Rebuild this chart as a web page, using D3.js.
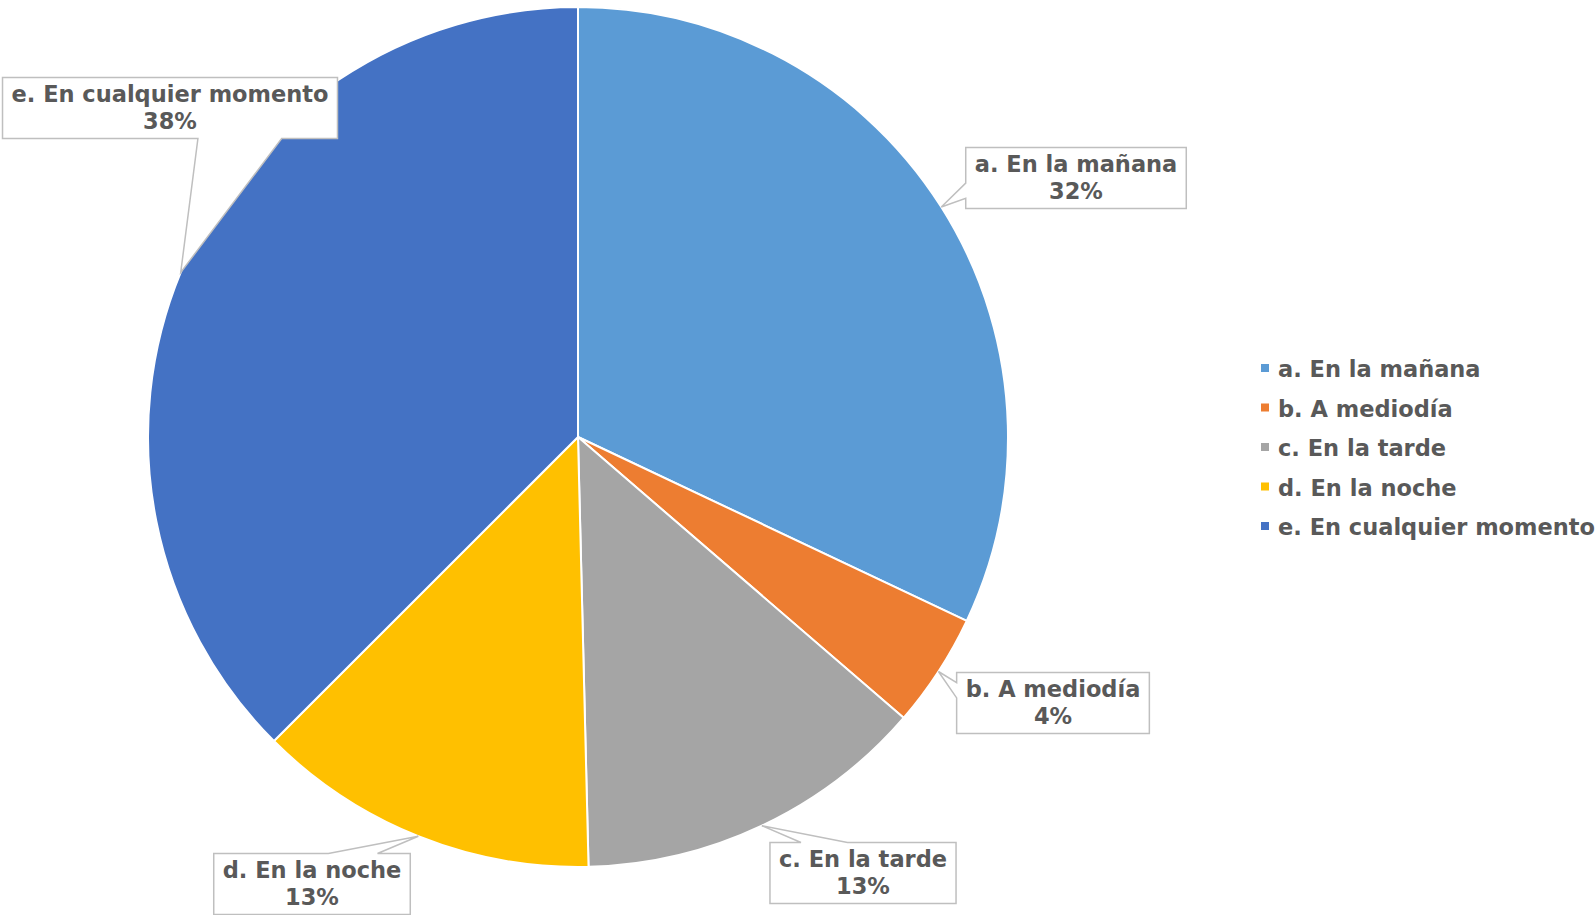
<!DOCTYPE html>
<html>
<head>
<meta charset="utf-8">
<script src="https://cdn.jsdelivr.net/npm/d3@7"></script>
<style>
  html, body { margin: 0; padding: 0; background: #fff; overflow: hidden; }
  svg { display: block; }
  text { font-family: "DejaVu Sans", "Liberation Sans", sans-serif; font-weight: bold; fill: #595959; }
</style>
</head>
<body>
<svg id="chart" width="1596" height="915"></svg>
<script>
// Responses: when do you prefer it?
const categories = ["a. En la mañana", "b. A mediodía", "c. En la tarde", "d. En la noche", "e. En cualquier momento"];
const counts = [82, 11, 34, 33, 96];
const colors = ["#5B9BD5", "#ED7D31", "#A5A5A5", "#FFC000", "#4472C4"];

const W = 1596, H = 915;
const cx = 578, cy = 437, R = 430;
const fontSize = 22.5;

const svg = d3.select("#chart");
const total = d3.sum(counts);
const rows = categories.map((c, i) => ({ name: c, value: counts[i], color: colors[i] }));

const pie = d3.pie().value(d => d.value).sort(null).startAngle(0).endAngle(2 * Math.PI);
const arcs = pie(rows);
const arc = d3.arc().innerRadius(0).outerRadius(R);

const g = svg.append("g").attr("transform", `translate(${cx},${cy})`);
g.selectAll("path.slice")
  .data(arcs)
  .join("path")
  .attr("class", "slice")
  .attr("d", arc)
  .attr("fill", d => d.data.color)
  .attr("stroke", "#fff")
  .attr("stroke-width", 2)
  .attr("stroke-linejoin", "round");

// Callout box centres (page coordinates), one per slice
const calloutCenters = [[1076, 178], [1053, 703], [863, 873], [312, 884], [170, 108]];
const boxH = 61, padX = 9;

const labels = svg.append("g");
arcs.forEach((a, i) => {
  const mid = (a.startAngle + a.endAngle) / 2;
  const tip = [cx + R * Math.sin(mid), cy - R * Math.cos(mid)];
  const [bx, by] = calloutCenters[i];
  const pct = Math.round(a.data.value / total * 100) + "%";

  const grp = labels.append("g");
  const path = grp.append("path")
    .attr("fill", "#fff")
    .attr("stroke", "#BFBFBF")
    .attr("stroke-width", 1.5)
    .attr("stroke-linejoin", "miter");
  const t1 = grp.append("text").attr("x", bx).attr("y", by - 6)
    .attr("text-anchor", "middle").attr("font-size", fontSize).text(a.data.name);
  grp.append("text").attr("x", bx).attr("y", by + 21)
    .attr("text-anchor", "middle").attr("font-size", fontSize).text(pct);

  const tw = t1.node().getComputedTextLength();
  const w = tw + 2 * padX, h = boxH;
  const x0 = bx - w / 2, y0 = by - h / 2, x1 = x0 + w, y1 = y0 + h;

  // pick the box side the wedge leaves from
  const dx = tip[0] - bx, dy = tip[1] - by;
  let side;
  if (Math.abs(dx) / w > Math.abs(dy) / h) side = dx < 0 ? "left" : "right";
  else side = dy < 0 ? "top" : "bottom";

  const pts = [];
  if (side === "top" || side === "bottom") {
    const f = dx < 0 ? [1 / 6, 5 / 12] : [7 / 12, 5 / 6];
    const ba = x0 + w * f[0], bb = x0 + w * f[1];
    if (side === "top") {
      pts.push([x0, y0], [ba, y0], tip, [bb, y0], [x1, y0], [x1, y1], [x0, y1]);
    } else {
      pts.push([x0, y0], [x1, y0], [x1, y1], [bb, y1], tip, [ba, y1], [x0, y1]);
    }
  } else {
    const f = dy < 0 ? [1 / 6, 5 / 12] : [7 / 12, 5 / 6];
    const ba = y0 + h * f[0], bb = y0 + h * f[1];
    if (side === "left") {
      pts.push([x0, y0], [x1, y0], [x1, y1], [x0, y1], [x0, bb], tip, [x0, ba]);
    } else {
      pts.push([x0, y0], [x1, y0], [x1, ba], tip, [x1, bb], [x1, y1], [x0, y1]);
    }
  }
  path.attr("d", d3.line()(pts) + "Z");
});

// Legend
const legend = svg.append("g").attr("transform", "translate(1261,0)");
const legendY = d3.scalePoint().domain(categories).range([377, 535]);
const items = legend.selectAll("g.item").data(rows).join("g").attr("class", "item")
  .attr("transform", d => `translate(0,${legendY(d.name)})`);
items.append("rect").attr("x", 0).attr("y", -13).attr("width", 8).attr("height", 8)
  .attr("fill", d => d.color);
items.append("text").attr("x", 17).attr("y", 0).attr("font-size", fontSize).text(d => d.name);
</script>
</body>
</html>
